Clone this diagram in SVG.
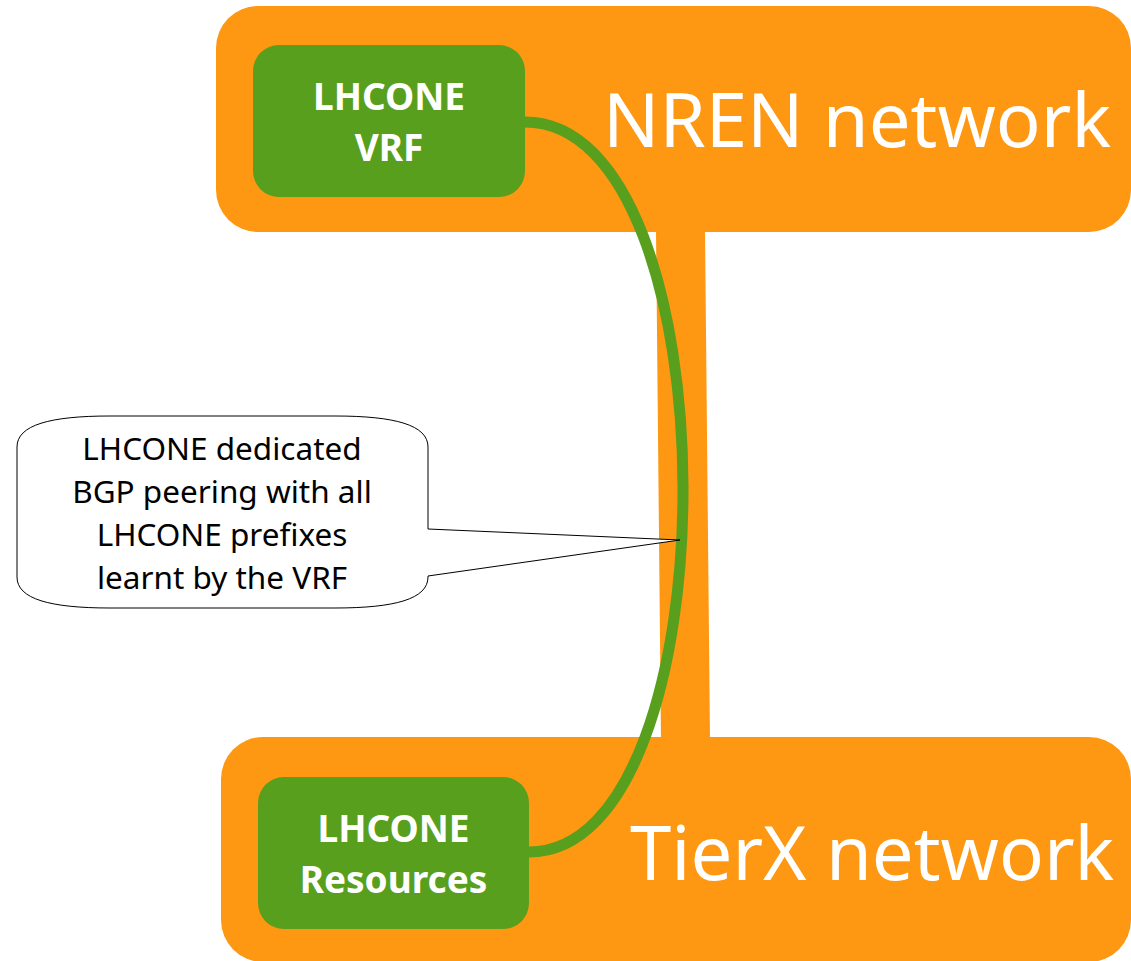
<svg xmlns="http://www.w3.org/2000/svg" width="1131" height="961" viewBox="0 0 1131 961">
  <style>
    .net { fill: #FE9712; }
    .box { fill: #589F1E; }
    .big { font-family: "Noto Sans", "Open Sans", sans-serif; font-size: 74.3px; fill: #ffffff; }
    .lbl { font-family: "Noto Sans", "Open Sans", sans-serif; font-size: 37px; font-weight: bold; fill: #ffffff; text-anchor: middle; }
    .note { font-family: "Noto Sans", "Open Sans", sans-serif; font-size: 31.5px; fill: #000000; text-anchor: middle; }
  </style>
  <rect width="1131" height="961" fill="#ffffff"/>
  <g id="link-trunk">
    <polygon class="net" points="656,230 705,230 710,740 661,740"/>
  </g>
  <g id="nren">
    <rect class="net" x="216" y="6" width="915" height="226" rx="42" ry="42"/>
    <text class="big" x="603" y="147">NREN network</text>
  </g>
  <g id="tierx">
    <rect class="net" x="221" y="737" width="910" height="225" rx="42" ry="42"/>
    <text class="big" x="630" y="880">TierX network</text>
  </g>
  <g id="vrf">
    <rect class="box" x="253" y="45" width="272" height="152" rx="26" ry="26"/>
    <text class="lbl" x="389" y="110">LHCONE</text>
    <text class="lbl" x="389" y="161">VRF</text>
  </g>
  <g id="resources">
    <rect class="box" x="258" y="777" width="271" height="152" rx="26" ry="26"/>
    <text class="lbl" x="393.5" y="842">LHCONE</text>
    <text class="lbl" x="393.5" y="893">Resources</text>
  </g>
  <g id="connectors">
    <path d="M525,122 C735,122 735,852 529,852" fill="none" stroke="#589F1E" stroke-width="11"/>
  </g>
  <g id="callout">
    <path d="M17,447 C17,425 50,416 110,416 L335,416 C395,416 428,425 428,447 L428,529 L680,540 L428,576 L428,577 C428,599 395,608 335,608 L110,608 C50,608 17,599 17,577 Z" fill="#ffffff" stroke="#000000" stroke-width="1"/>
    <text class="note" x="222" y="460">LHCONE dedicated</text>
    <text class="note" x="222" y="503">BGP peering with all</text>
    <text class="note" x="222" y="546">LHCONE prefixes</text>
    <text class="note" x="222" y="589">learnt by the VRF</text>
  </g>
</svg>
